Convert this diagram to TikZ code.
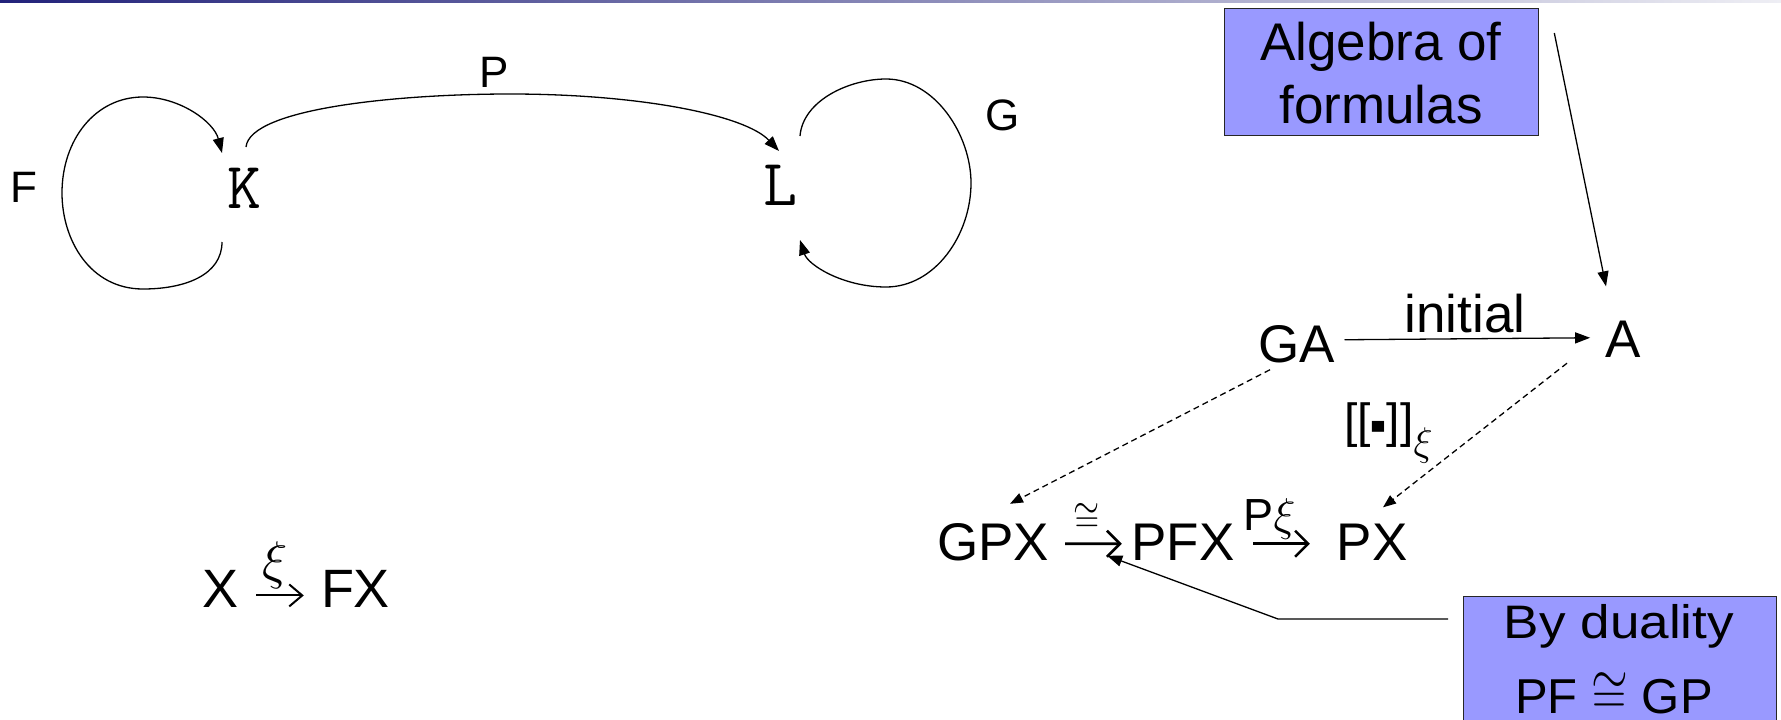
\documentclass[tikz,border=0pt]{standalone}
\usepackage{fontspec}
\usepackage{graphicx}
\setmainfont{Liberation Sans}
\usetikzlibrary{arrows.meta}
\definecolor{boxblue}{RGB}{153,153,255}
\definecolor{barnavy}{RGB}{34,34,122}
\definecolor{barpale}{RGB}{238,238,244}
\newcommand\fsz[1]{\fontsize{#1}{#1}\selectfont}
% math symbol set at the largest design size, then scaled (x factor, y factor)
\newcommand\mth[3]{{\fontsize{24.88}{25}\selectfont\scalebox{#1}[#2]{$#3$}}}
\begin{document}
\begin{tikzpicture}[x=1pt,y=-1pt,
  lbl/.style={inner sep=0pt, anchor=base},
  conn/.style={line width=1.3pt, -{Triangle[length=15pt,width=11pt]}},
  dashconn/.style={line width=1.3pt, dash pattern=on 6pt off 4pt, -{Triangle[length=13pt,width=10pt]}},
  glyph/.style={line width=2.6pt, -{Straight Barb[length=13pt,width=26pt]}},
  glyphthin/.style={line width=2pt, -{Straight Barb[length=13pt,width=22pt]}},
  box/.style={draw=black!85, line width=1.3pt, fill=boxblue, inner sep=0pt, anchor=north west},
  big/.style={font=\fsz{53}},
  small/.style={font=\fsz{44}},
  obj/.style={font=\ttfamily\fsz{66}},
]
\useasboundingbox (0,0) rectangle (1781,720);
\clip (0,0) rectangle (1781,720);
\fill[white] (0,0) rectangle (1781,720);
% header rule
\shade[left color=barnavy, right color=barpale] (0,0) rectangle (1781,2.5);

% ---------- functors between the two categories ----------
\node[lbl, obj] (K) at (244,208) {K};
\node[lbl, obj] (L) at (780,205) {L};
\node[lbl, small] (Flab) at (24,202) {F};
\node[lbl, small] (Plab) at (494,87) {P};
\node[lbl, small] (Glab) at (1003,130) {G};

\draw[conn] ([shift={(-22,34)}]K.base) .. controls (222,275) and (185,289) .. (143,289)
  .. controls (90,289) and (62,240) .. (62,193)
  .. controls (62,140) and (95,97) .. (143,97)
  .. controls (180,97) and (214,122) .. ([shift={(-22,-55)}]K.base);

\draw[conn] ([shift={(20,-69)}]L.base) .. controls (803,100) and (850,79) .. (886,79)
  .. controls (935,79) and (971,135) .. (971,183)
  .. controls (971,235) and (935,287) .. (886,287)
  .. controls (843,287) and (808,265) .. ([shift={(20,35)}]L.base);

\draw[conn] ([shift={(2,-61)}]K.base) .. controls (250,108) and (400,94) .. (510,94)
  .. controls (640,94) and (745,115) .. ([shift={(-1,-54)}]L.base);

% ---------- coalgebra ----------
\node[lbl, font=\fsz{54}] (X) at (220.5,607) {X};
\node[lbl, font=\fsz{54}] (FX) at (355.5,607) {FX};
\draw[glyphthin] ([shift={(17.5,7)}]X.east) -- ([shift={(-17,7)}]FX.west)
  node[pos=0, anchor=base west, xshift=5pt, yshift=17pt, inner sep=0pt] (xi) {\mth{2.13}{2.13}{\xi}};

% ---------- initial algebra and semantics ----------
\node[box, minimum width=314pt, minimum height=127pt] (alg) at (1224,8) {};
\node[lbl, big] (alg1) at (1381,60) {Algebra of};
\node[lbl, big] (alg2) at (1381,123) {formulas};

\node[lbl, big] (GA) at (1297,362) {GA};
\node[lbl, big] (A) at (1623,357) {A};
\node[lbl, big] (init) at (1465,332) {initial};
\draw[conn] ([shift={(9,-4)}]GA.east) -- ([shift={(-15,-1)}]A.west);
\draw[conn] ([shift={(15,25)}]alg.north east) -- ([shift={(-17,-34)}]A.north);

\node[lbl, anchor=base west, font=\fsz{48}] (sem) at (1344,437)
  {[[\raisebox{-13pt}{\scalebox{1}[1.9]{\bfseries -}}]]\raisebox{-18pt}{\mth{1.61}{1.61}{\xi}}};

\node[lbl, big] (GPX) at (993,560) {GPX};
\node[lbl, big] (PFX) at (1183,560) {PFX};
\node[lbl, big] (PX) at (1372,560) {PX};
\draw[glyph] ([shift={(16,2)}]GPX.east) -- ([shift={(-9.5,2)}]PFX.west)
  node[midway, xshift=-6.5pt, yshift=25.5pt, inner sep=0pt] (iso) {\mth{1.35}{1.65}{\cong}};
\draw[glyph] ([shift={(18.5,2)}]PFX.east) -- ([shift={(-26.5,2)}]PX.west)
  node[pos=0, anchor=base west, xshift=-11pt, yshift=13pt, inner sep=0pt, font=\fsz{45}] (Pxi) {P\mth{1.85}{1.85}{\xi}};

\draw[dashconn] ([shift={(-27,7)}]GA.south) -- ([shift={(17,-19)}]GPX.north);
\draw[dashconn] ([shift={(-56,6)}]A.south) -- ([shift={(11,-16)}]PX.north);

% ---------- duality note ----------
\node[box, minimum width=313pt, minimum height=200pt] (dual) at (1463,596) {};
\node[lbl, font=\fsz{47}] (dual1) at (1619,638) {\scalebox{1.13}[1]{By duality}};
\node[lbl, font=\fsz{49}] (dual2) at (1614,713) {PF \mth{1.9}{2.4}{\cong} GP};
\draw[conn] ([shift={(-15,23)}]dual.north west) -- ++(-170,0) -- ([shift={(-24,14)}]PFX.west);
\end{tikzpicture}
\end{document}
